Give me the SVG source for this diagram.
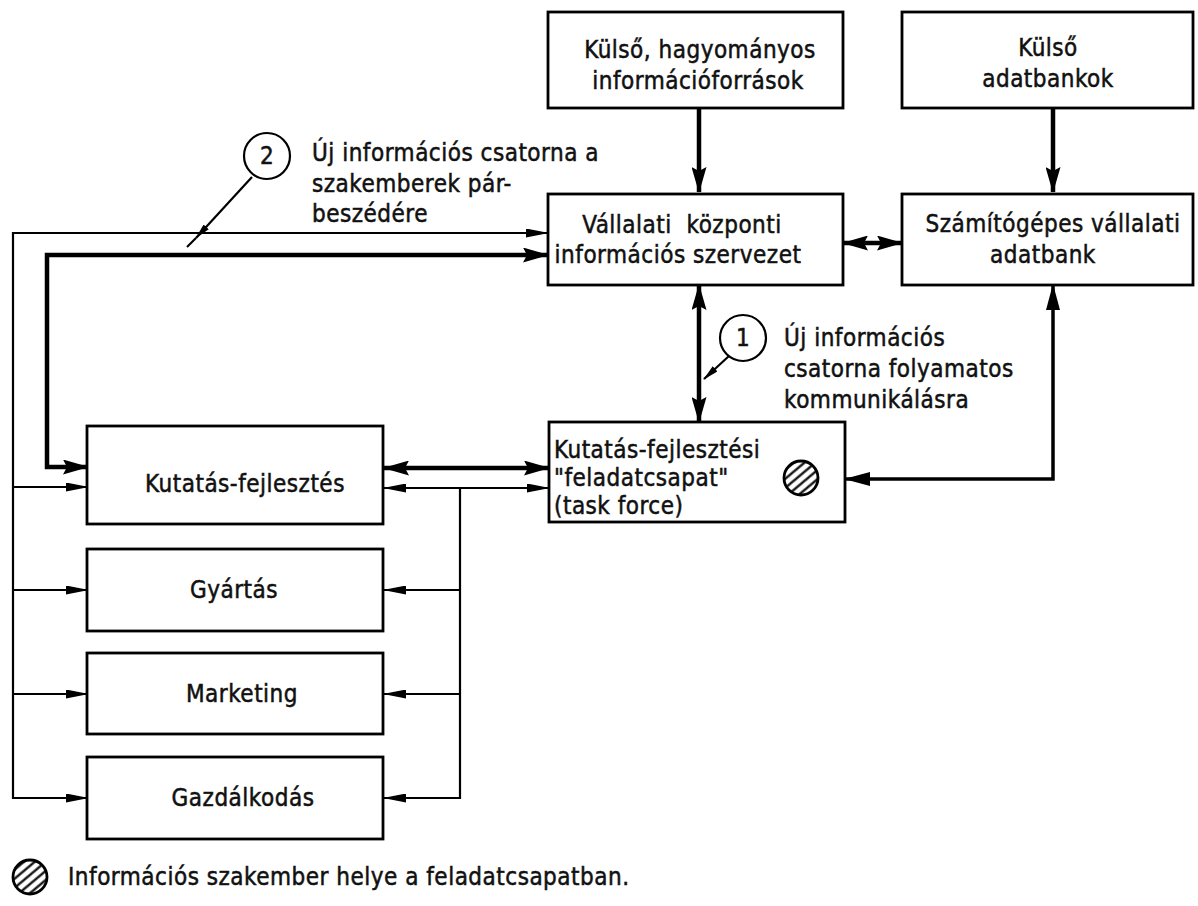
<svg xmlns="http://www.w3.org/2000/svg" width="1198" height="906" viewBox="0 0 1198 906">
<style>
.box{fill:#fff;stroke:#000;stroke-width:2.8}
.t{font-family:"DejaVu Sans Condensed","DejaVu Sans",sans-serif;font-size:24px;letter-spacing:0.5px;fill:#111;stroke:#111;stroke-width:0.5}
.c{text-anchor:middle}
.thin{fill:none;stroke:#000;stroke-width:2.2}
.med{fill:none;stroke:#000;stroke-width:3.5}
.thick{fill:none;stroke:#000;stroke-width:4.5}
</style>
<defs>
<marker id="aL" viewBox="0 0 26 15" markerWidth="26" markerHeight="15" refX="25" refY="7.5" orient="auto-start-reverse" markerUnits="userSpaceOnUse"><path d="M0,0 L26,7.5 L0,15 L4,7.5 Z"/></marker>
<marker id="aM" viewBox="0 0 26 14" markerWidth="26" markerHeight="14" refX="25" refY="7" orient="auto-start-reverse" markerUnits="userSpaceOnUse"><path d="M0,0 L26,7 L0,14 Z"/></marker>
<marker id="aS" viewBox="0 0 23 9" markerWidth="23" markerHeight="9" refX="22" refY="4.5" orient="auto-start-reverse" markerUnits="userSpaceOnUse"><path d="M0,0 L23,4.5 L0,9 Z"/></marker>
<marker id="aT" viewBox="0 0 16 7" markerWidth="16" markerHeight="7" refX="15" refY="3.5" orient="auto" markerUnits="userSpaceOnUse"><path d="M0,0 L16,3.5 L0,7 Z"/></marker>
<pattern id="hatch" width="7" height="7" patternUnits="userSpaceOnUse" patternTransform="rotate(-40)"><line x1="0" y1="3.5" x2="7" y2="3.5" stroke="#000" stroke-width="2.2"/></pattern>
</defs>
<rect width="1198" height="906" fill="#fff"/>

<g id="connectors">
<path class="thick" d="M699,108 V192" marker-end="url(#aL)"/>
<path class="thick" d="M1053,108 V192" marker-end="url(#aL)"/>
<path class="thick" d="M843,243 H902" marker-start="url(#aL)" marker-end="url(#aL)"/>
<path class="thick" d="M699,285 V422" marker-start="url(#aL)" marker-end="url(#aL)"/>
<path class="med" d="M1053,285 V479 H845" marker-start="url(#aM)" marker-end="url(#aM)"/>
<path class="thin" d="M548,233 H13 V798 H88" marker-start="url(#aS)" marker-end="url(#aS)"/>
<path class="thin" d="M13,487 H88" marker-end="url(#aS)"/>
<path class="thin" d="M13,590 H88" marker-end="url(#aS)"/>
<path class="thin" d="M13,694 H88" marker-end="url(#aS)"/>
<path class="thick" d="M548,255 H47 V467 H88" marker-start="url(#aL)" marker-end="url(#aL)"/>
<path class="thick" d="M384,468 H549" marker-start="url(#aL)" marker-end="url(#aL)"/>
<path class="thin" d="M384,488 H549" marker-start="url(#aS)" marker-end="url(#aS)"/>
<path class="thin" d="M460,488 V798 H384" marker-end="url(#aS)"/>
<path class="thin" d="M460,590 H384" marker-end="url(#aS)"/>
<path class="thin" d="M460,694 H384" marker-end="url(#aS)"/>
<path class="thin" d="M252,177 L196,238" marker-end="url(#aT)"/>
<path class="thin" d="M196,238 L187,247"/>
<path class="thin" d="M729,356 L704,379" marker-end="url(#aT)"/>
</g>

<g id="n-kulso-hagyomanyos">
<rect class="box" x="548" y="12" width="295" height="96"/>
<text class="t c" x="700" y="58">Külső, hagyományos</text>
<text class="t c" x="698" y="89">információforrások</text>
</g>
<g id="n-kulso-adatbankok">
<rect class="box" x="902" y="12" width="291" height="96"/>
<text class="t c" x="1048" y="56">Külső</text>
<text class="t c" x="1048" y="87">adatbankok</text>
</g>
<g id="n-vallalati-kozponti">
<rect class="box" x="548" y="194" width="295" height="91"/>
<text class="t c" x="682" y="233" xml:space="preserve">Vállalati  központi</text>
<text class="t c" x="678" y="263">információs szervezet</text>
</g>
<g id="n-szamitogepes">
<rect class="box" x="902" y="194" width="291" height="91"/>
<text class="t c" x="1053" y="232">Számítógépes vállalati</text>
<text class="t c" x="1043" y="263">adatbank</text>
</g>
<g id="n-taskforce">
<rect class="box" x="549" y="422" width="296" height="100"/>
<text class="t" x="554" y="458">Kutatás-fejlesztési</text>
<text class="t" x="554" y="486">"feladatcsapat"</text>
<text class="t" x="554" y="514">(task force)</text>
<circle cx="801" cy="478" r="17" fill="url(#hatch)" stroke="#000" stroke-width="2.8"/>
</g>
<g id="n-kutatas">
<rect class="box" x="87" y="426" width="296" height="98"/>
<text class="t c" x="245" y="492">Kutatás-fejlesztés</text>
</g>
<g id="n-gyartas">
<rect class="box" x="87" y="549" width="296" height="82"/>
<text class="t c" x="234" y="598">Gyártás</text>
</g>
<g id="n-marketing">
<rect class="box" x="87" y="653" width="296" height="81"/>
<text class="t c" x="242" y="702">Marketing</text>
</g>
<g id="n-gazdalkodas">
<rect class="box" x="87" y="757" width="296" height="82"/>
<text class="t c" x="243" y="806">Gazdálkodás</text>
</g>

<g id="label-2">
<circle cx="267" cy="156" r="23" fill="#fff" stroke="#000" stroke-width="2.2"/>
<text class="t c" x="267" y="164">2</text>
<text class="t" x="312" y="161">Új információs csatorna a</text>
<text class="t" x="312" y="192">szakemberek pár-</text>
<text class="t" x="312" y="222">beszédére</text>
</g>
<g id="label-1">
<circle cx="743" cy="338" r="23" fill="#fff" stroke="#000" stroke-width="2.2"/>
<text class="t c" x="743" y="346">1</text>
<text class="t" x="784" y="346">Új információs</text>
<text class="t" x="784" y="377">csatorna folyamatos</text>
<text class="t" x="784" y="408">kommunikálásra</text>
</g>
<g id="legend">
<circle cx="30" cy="877" r="17" fill="url(#hatch)" stroke="#000" stroke-width="2.8"/>
<text class="t" x="68" y="885">Információs szakember helye a feladatcsapatban.</text>
</g>
</svg>
